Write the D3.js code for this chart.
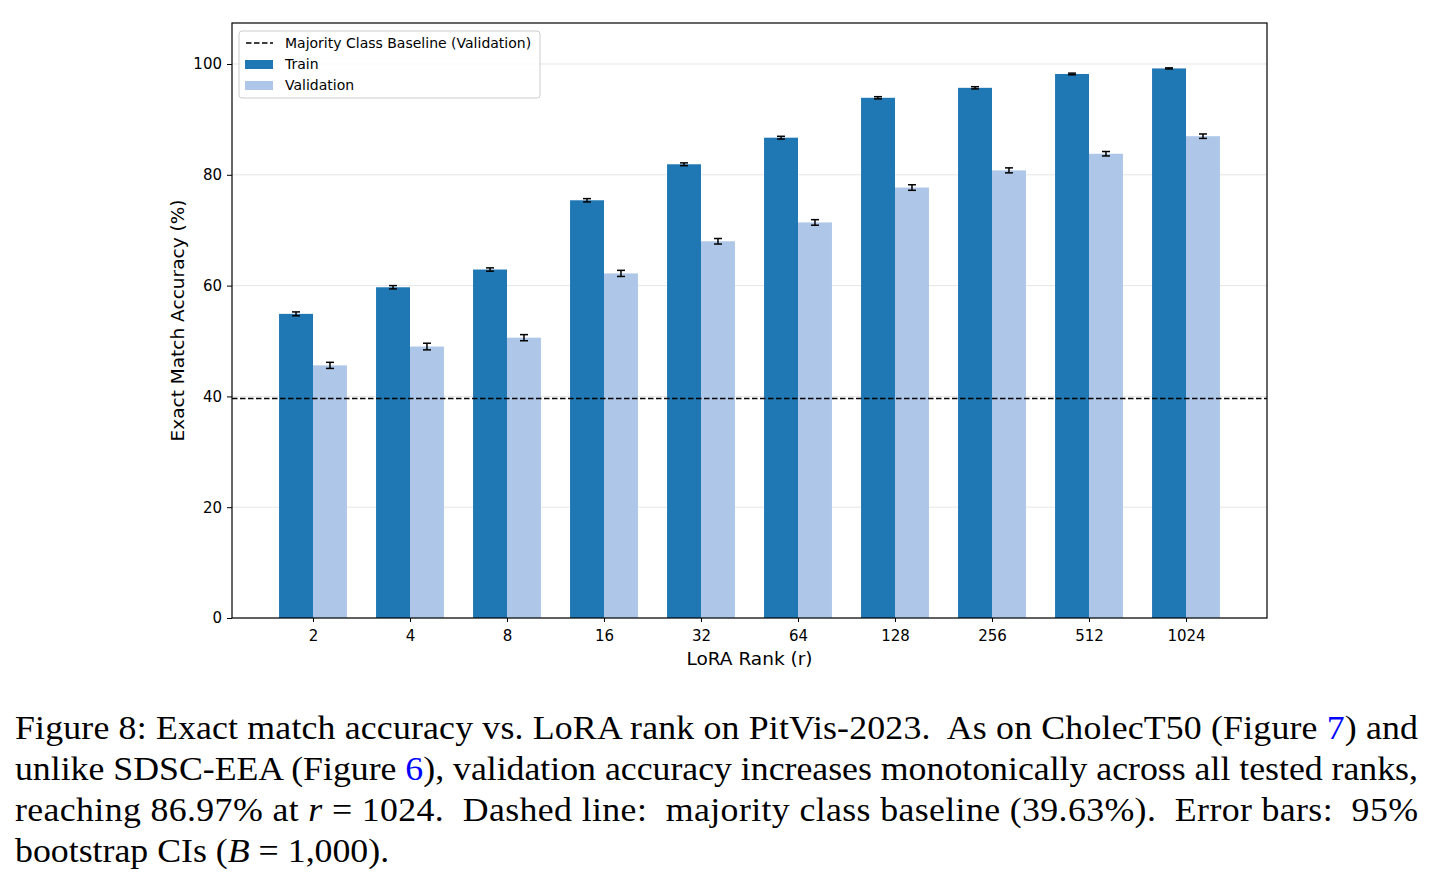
<!DOCTYPE html>
<html>
<head>
<meta charset="utf-8">
<script src="https://d3js.org/d3.v7.min.js"></script>
<style>
  body { margin: 0; background: #fff; }
  svg { display: block; }
  .axis text { font: 15px "DejaVu Sans", sans-serif; fill: #000; }
  .caption { font-family: "Liberation Serif", "DejaVu Serif", serif; font-size: 33px; fill: #000; }
</style>
</head>
<body>
<script>
// data
var ranks = ["2", "4", "8", "16", "32", "64", "128", "256", "512", "1024"];
var trainAcc = [54.9, 59.7, 62.9, 75.4, 81.9, 86.7, 93.9, 95.7, 98.2, 99.2];
var trainErr = [0.35, 0.3, 0.3, 0.3, 0.25, 0.25, 0.2, 0.2, 0.15, 0.1];
var valAcc = [45.6, 49.0, 50.6, 62.2, 68.0, 71.4, 77.7, 80.8, 83.8, 86.97];
var valErr = [0.55, 0.6, 0.55, 0.55, 0.5, 0.5, 0.5, 0.45, 0.4, 0.4];
var baseline = 39.63;
var yTicks = [0, 20, 40, 60, 80, 100];

var W = 1434, H = 884;
var m = {left: 232, top: 23, right: 1267, bottom: 618};

var svg = d3.select("body").append("svg").attr("width", W).attr("height", H);

var barW = 0.35;
var x = d3.scaleLinear().domain([-barW - 0.485, 9 + barW + 0.485]).range([m.left, m.right]);
var y = d3.scaleLinear().domain([0, 107.4]).range([m.bottom, m.top]);

var g = svg.append("g");

// grid
g.selectAll(".grid").data(yTicks).enter().append("line")
  .attr("x1", m.left).attr("x2", m.right)
  .attr("y1", function (d) { return y(d); }).attr("y2", function (d) { return y(d); })
  .attr("stroke", "#e6e6e6").attr("stroke-width", 1);

var bw = x(barW) - x(0);

g.selectAll(".train").data(trainAcc).enter().append("rect")
  .attr("x", function (d, i) { return x(i - barW); })
  .attr("y", function (d) { return y(d); })
  .attr("width", bw)
  .attr("height", function (d) { return y(0) - y(d); })
  .attr("fill", "#1f77b4");

g.selectAll(".val").data(valAcc).enter().append("rect")
  .attr("x", function (d, i) { return x(i); })
  .attr("y", function (d) { return y(d); })
  .attr("width", bw)
  .attr("height", function (d) { return y(0) - y(d); })
  .attr("fill", "#aec7e8");

// error bars
function errBars(vals, errs, offset) {
  vals.forEach(function (v, i) {
    var cx = x(i + offset);
    var lo = y(v - errs[i]), hi = y(v + errs[i]);
    g.append("line").attr("x1", cx).attr("x2", cx).attr("y1", lo).attr("y2", hi)
      .attr("stroke", "#000").attr("stroke-width", 1.5);
    [lo, hi].forEach(function (yy) {
      g.append("line").attr("x1", cx - 4).attr("x2", cx + 4).attr("y1", yy).attr("y2", yy)
        .attr("stroke", "#000").attr("stroke-width", 1.5);
    });
  });
}
errBars(trainAcc, trainErr, -barW / 2);
errBars(valAcc, valErr, barW / 2);

// baseline
g.append("line").attr("x1", m.left).attr("x2", m.right)
  .attr("y1", y(baseline)).attr("y2", y(baseline))
  .attr("stroke", "#000").attr("stroke-width", 1.5).attr("stroke-dasharray", "5.5,2.5");

// axes
var xAxis = d3.axisBottom(x).tickValues(d3.range(ranks.length))
  .tickFormat(function (d) { return ranks[d]; }).tickSize(4).tickPadding(8);
svg.append("g").attr("class", "axis").attr("transform", "translate(0," + m.bottom + ")").call(xAxis)
  .call(function (s) { s.select(".domain").remove(); });

var yAxis = d3.axisLeft(y).tickValues(yTicks).tickSize(5).tickPadding(5);
svg.append("g").attr("class", "axis").attr("transform", "translate(" + m.left + ",0)").call(yAxis)
  .call(function (s) { s.select(".domain").remove(); });

// frame
svg.append("rect").attr("x", m.left).attr("y", m.top)
  .attr("width", m.right - m.left).attr("height", m.bottom - m.top)
  .attr("fill", "none").attr("stroke", "#000").attr("stroke-width", 1.2);

// axis labels
svg.append("text").attr("x", (m.left + m.right) / 2).attr("y", 665)
  .attr("text-anchor", "middle").style("font", "18.5px 'DejaVu Sans', sans-serif")
  .text("LoRA Rank (r)");
svg.append("text").attr("transform", "translate(184," + ((m.top + m.bottom) / 2) + ") rotate(-90)")
  .attr("text-anchor", "middle").style("font", "18.5px 'DejaVu Sans', sans-serif")
  .text("Exact Match Accuracy (%)");

// legend
var leg = svg.append("g").attr("transform", "translate(239,31)");
leg.append("rect").attr("width", 301).attr("height", 67).attr("rx", 3)
  .attr("fill", "#fff").attr("fill-opacity", 0.8).attr("stroke", "#ccc");
leg.append("line").attr("x1", 7).attr("x2", 34).attr("y1", 12).attr("y2", 12)
  .attr("stroke", "#000").attr("stroke-width", 1.5).attr("stroke-dasharray", "5.5,2.5");
leg.append("rect").attr("x", 6).attr("y", 29).attr("width", 28).attr("height", 9).attr("fill", "#1f77b4");
leg.append("rect").attr("x", 6).attr("y", 50).attr("width", 28).attr("height", 9).attr("fill", "#aec7e8");
var legText = ["Majority Class Baseline (Validation)", "Train", "Validation"];
leg.selectAll(".lt").data(legText).enter().append("text")
  .attr("x", 46).attr("y", function (d, i) { return 17 + i * 21; })
  .style("font", "14px 'DejaVu Sans', sans-serif").text(function (d) { return d; });

// caption
var sx = 1.085;
var cap = svg.append("g").attr("class", "caption").attr("transform", "translate(15,0) scale(" + sx + ",1)");
var lines = [
  [["Figure 8: Exact match accuracy vs. LoRA rank on PitVis-2023.  As on CholecT50 (Figure ", null], ["7", "#0000ff"], [") and", null]],
  [["unlike SDSC-EEA (Figure ", null], ["6", "#0000ff"], ["), validation accuracy increases monotonically across all tested ranks,", null]],
  [["reaching 86.97% at ", null], ["r", "it"], [" = 1024.  Dashed line:  majority class baseline (39.63%).  Error bars:  95%", null]],
  [["bootstrap CIs (", null], ["B", "it"], [" = 1,000).", null]]
];
lines.forEach(function (parts, li) {
  var t = cap.append("text").attr("x", 0).attr("y", 739 + li * 41).attr("xml:space", "preserve");
  if (li < 3) t.attr("textLength", 1403 / sx).attr("lengthAdjust", "spacing");
  parts.forEach(function (p) {
    var ts = t.append("tspan").text(p[0]);
    if (p[1] === "it") ts.style("font-style", "italic");
    else if (p[1]) ts.attr("fill", p[1]);
  });
});
</script>
</body>
</html>
